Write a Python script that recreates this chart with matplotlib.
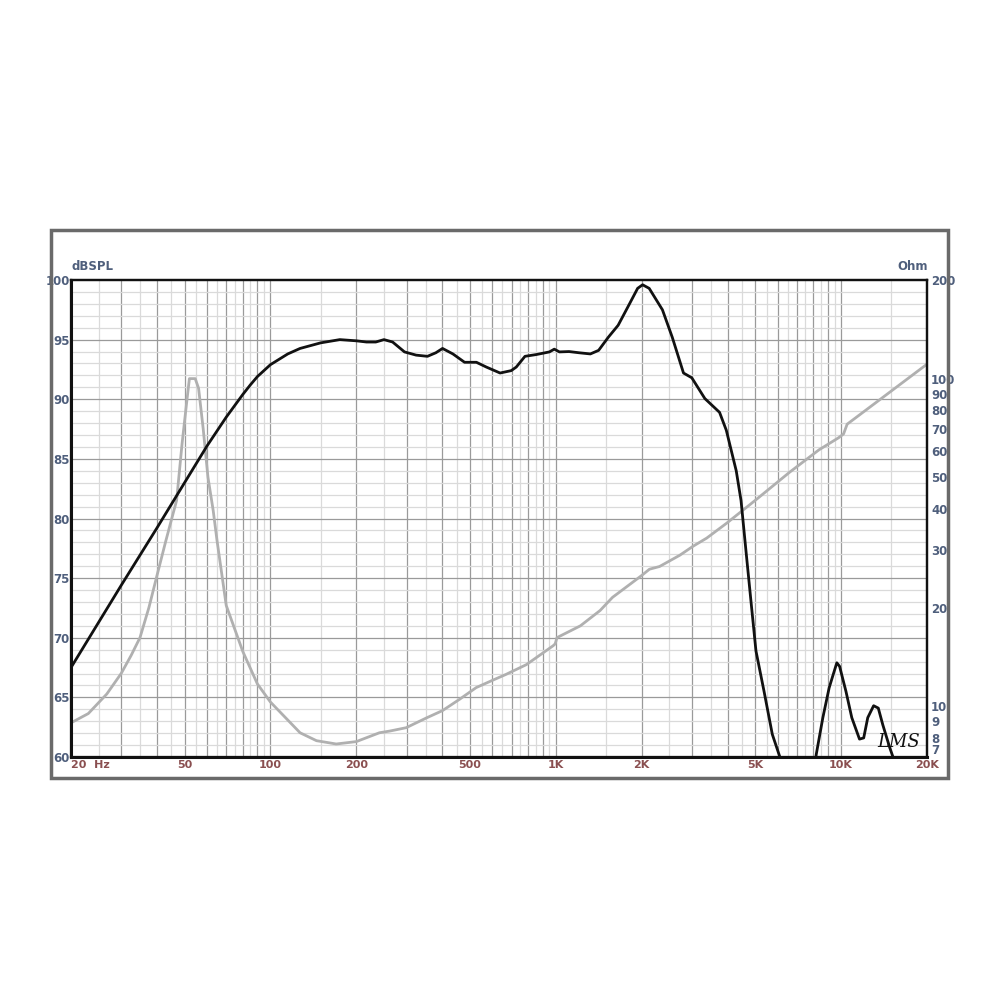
import matplotlib
matplotlib.use("Agg")
import matplotlib.pyplot as plt
from matplotlib.patches import Rectangle
from matplotlib.ticker import FixedLocator, NullLocator, NullFormatter

# SPL response (Hz, dB)
spl_freq = [20, 30, 40, 50, 60, 70, 80, 85, 90, 100, 115, 127, 150, 175,
            200, 217, 234, 250, 268, 295, 324, 355, 380, 401, 436, 479, 527, 571,
            638, 698, 727, 780, 855, 950, 988, 1030, 1113, 1205, 1322, 1413, 1528,
            1654, 1813, 1936, 2015, 2125, 2365, 2560, 2803, 2997, 3330, 3750, 3960,
            4290, 4460, 4640, 4830, 5030, 5370, 5740, 6140, 6600, 7300, 7900, 8180,
            8630, 9080, 9350, 9660, 9880, 10400, 10900, 11600, 12000, 12400, 13000,
            13500, 14000, 14800, 15200, 16000]
spl_db = [67.5, 74.4, 79.2, 83.0, 86.1, 88.5, 90.4, 91.2, 91.9, 92.9,
          93.8, 94.26, 94.73, 95.0, 94.9, 94.8, 94.8, 95.0, 94.8, 93.97, 93.7, 93.6,
          93.9, 94.26, 93.8, 93.1, 93.1, 92.7, 92.2, 92.4, 92.7, 93.6, 93.75, 93.97,
          94.2, 93.97, 94.0, 93.9, 93.8, 94.1, 95.2, 96.2, 98.0, 99.3, 99.6, 99.3,
          97.5, 95.2, 92.2, 91.8, 90.06, 88.9, 87.4, 84.0, 81.5, 77.3, 73.1, 68.9,
          65.5, 61.9, 59.8, 56.0, 55.0, 57.0, 60.2, 63.3, 65.8, 66.8, 67.9, 67.6,
          65.5, 63.3, 61.5, 61.6, 63.3, 64.3, 64.1, 62.7, 60.8, 60.0, 58.0]

# impedance (Hz, Ohm)
imp_freq = [20, 23, 26.7, 30, 32.5, 34.9, 37.5, 40, 43, 46.9, 49, 51, 52, 54.5, 56,
            58.1, 60.4, 63, 65, 70, 80, 90, 100, 127, 145, 170, 200, 241, 262, 299,
            351, 401, 460, 526, 600, 668, 789, 979, 995, 1010, 1220, 1430, 1581,
            1992, 2130, 2310, 2720, 3030, 3380, 3970, 5000, 6600, 8360, 9800, 10200,
            10500, 13700, 20000]
imp_ohm = [8.9, 9.5, 10.9, 12.6, 14.3, 16.2, 20.0, 25.0, 32.0, 42.5, 63.2, 86.4,
           100.0, 100.0, 93.4, 70.5, 50.0, 39.6, 32.0, 20.3, 14.7, 11.7, 10.3, 8.3,
           7.85, 7.67, 7.8, 8.3, 8.4, 8.6, 9.2, 9.7, 10.5, 11.4, 12.0, 12.5, 13.4,
           15.3, 15.5, 16.2, 17.6, 19.6, 21.5, 25.0, 26.2, 26.7, 28.9, 30.8, 32.6,
           36.2, 42.5, 51.8, 60.6, 66.0, 67.8, 72.6, 86.4, 110.7]

x_ticks = [20, 50, 100, 200, 500, 1000, 2000, 5000, 10000, 20000]
x_labels = ["20  Hz", "50", "100", "200", "500", "1K", "2K", "5K", "10K", "20K"]
db_ticks = [60, 65, 70, 75, 80, 85, 90, 95, 100]
ohm_ticks = [7, 8, 9, 10, 20, 30, 40, 50, 60, 70, 80, 90, 100, 200]

blue = "#4f5f7c"
red = "#8a4f50"
dark_grid = "#9a9a9a"
light_grid = "#dadada"

fig = plt.figure(figsize=(10, 10), dpi=100)
fig.patches.append(Rectangle((0.051, 0.222), 0.897, 0.548, transform=fig.transFigure,
                             fill=False, edgecolor="#6a6a6a", linewidth=2.5))

ax = fig.add_axes([0.071, 0.243, 0.856, 0.477])
ax.set_xscale("log")
ax.set_xlim(20, 20000)
ax.set_ylim(60, 100)

axz = ax.twinx()
axz.set_yscale("log")
axz.set_ylim(7, 200)

# grid: full steps dark, half steps light
for dec in [10, 100, 1000, 10000]:
    for k in range(1, 10):
        for f, c in [(k * dec, dark_grid), ((k + 0.5) * dec, light_grid)]:
            if 20 < f < 20000:
                ax.axvline(f, color=c, lw=0.9, zorder=0)
for d in range(61, 100):
    ax.axhline(d, color=dark_grid if d % 5 == 0 else light_grid, lw=0.9, zorder=0)

ax.plot(imp_freq, imp_ohm, color="#b0b0b0", lw=2.0, transform=axz.transData,
        zorder=2, solid_capstyle="round")
ax.plot(spl_freq, spl_db, color="#111111", lw=2.0, zorder=3)

ax.xaxis.set_major_locator(FixedLocator(x_ticks))
ax.xaxis.set_minor_locator(NullLocator())
ax.set_xticklabels(x_labels)
ax.set_yticks(db_ticks)
ax.tick_params(axis="x", length=0, pad=2, labelsize=8, labelcolor=red)
ax.tick_params(axis="y", length=0, pad=1, labelsize=8.5, labelcolor=blue)
for lab in ax.get_xticklabels() + ax.get_yticklabels():
    lab.set_fontweight("bold")
ax.get_xticklabels()[0].set_ha("left")

axz.yaxis.set_major_locator(FixedLocator(ohm_ticks))
axz.yaxis.set_minor_locator(NullLocator())
axz.yaxis.set_minor_formatter(NullFormatter())
axz.set_yticklabels([str(t) for t in ohm_ticks])
axz.tick_params(axis="y", length=0, pad=3, labelsize=8.5, labelcolor=blue)
for lab in axz.get_yticklabels():
    lab.set_fontweight("bold")
axz.get_yticklabels()[0].set_va("bottom")

for a in (ax, axz):
    for s in a.spines.values():
        s.set_color("#111111")
        s.set_linewidth(1.6)
ax.spines["left"].set_linewidth(2.2)
ax.spines["bottom"].set_linewidth(2.2)

fig.text(0.072, 0.727, "dBSPL", color=blue, fontsize=8.5, fontweight="bold",
         ha="left", va="bottom")
fig.text(0.928, 0.727, "Ohm", color=blue, fontsize=8.5, fontweight="bold",
         ha="right", va="bottom")
ax.text(0.877, 0.253, "LMS", transform=fig.transFigure, fontsize=13,
        fontstyle="italic", family="DejaVu Serif", color="#111111", zorder=5)

fig.savefig("out.png", dpi=100, facecolor="white")
